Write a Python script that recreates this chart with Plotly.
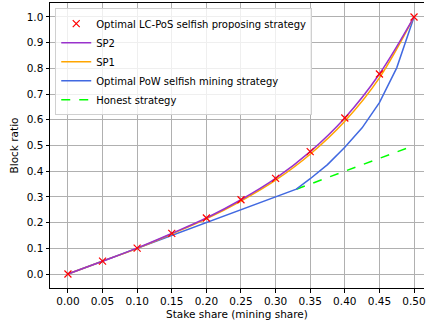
import plotly.graph_objects as go

stake = [0.0, 0.05, 0.10, 0.15, 0.20, 0.25, 0.30, 0.35, 0.40, 0.45, 0.50]
sp_markers = [0.0, 0.05, 0.101, 0.158, 0.218, 0.289, 0.372, 0.476, 0.607, 0.778, 1.0]
sp2 = [0.0, 0.05, 0.101, 0.158, 0.218, 0.289, 0.372, 0.476, 0.607, 0.778, 1.0]
sp1 = [0.0, 0.05, 0.100, 0.156, 0.215, 0.284, 0.365, 0.466, 0.594, 0.763, 1.0]
pow_x = [0.0, 0.05, 0.10, 0.15, 0.20, 0.25, 0.30, 0.33, 0.35, 0.375, 0.40, 0.425, 0.45, 0.475, 0.50]
pow_y = [0.0, 0.05, 0.10, 0.15, 0.20, 0.25, 0.30, 0.33, 0.3708, 0.4255, 0.4933, 0.5686, 0.6666, 0.8020, 1.0]
honest_x = [0.33, 0.50]
honest_y = [0.33, 0.50]

xticks = [0.0, 0.05, 0.10, 0.15, 0.20, 0.25, 0.30, 0.35, 0.40, 0.45, 0.50]
yticks = [0.0, 0.1, 0.2, 0.3, 0.4, 0.5, 0.6, 0.7, 0.8, 0.9, 1.0]

fig = go.Figure()
fig.add_trace(go.Scatter(x=honest_x, y=honest_y, mode="lines", name="Honest strategy",
                         line=dict(color="#00ff00", width=1.5, dash="dash"), legendrank=5))
fig.add_trace(go.Scatter(x=pow_x, y=pow_y, mode="lines", name="Optimal PoW selfish mining strategy",
                         line=dict(color="#4169e1", width=1.5), legendrank=4))
fig.add_trace(go.Scatter(x=stake, y=sp1, mode="lines", name="SP1",
                         line=dict(color="#ffa500", width=1.5, shape="spline"), legendrank=3))
fig.add_trace(go.Scatter(x=stake, y=sp2, mode="lines", name="SP2",
                         line=dict(color="#9932cc", width=1.5, shape="spline"), legendrank=2))
fig.add_trace(go.Scatter(x=stake, y=sp_markers, mode="markers", name="Optimal LC-PoS selfish proposing strategy",
                         marker=dict(symbol="x-thin", size=7, color="red", line=dict(color="red", width=1.2)),
                         legendrank=1))

font = "DejaVu Sans, sans-serif"
fig.update_layout(
    width=426, height=322,
    margin=dict(l=50, r=0, t=3, b=34),
    plot_bgcolor="white", paper_bgcolor="white",
    font=dict(family=font, size=10.5, color="black"),
    showlegend=True,
    legend=dict(x=0.014, y=0.982, xanchor="left", yanchor="top",
                bgcolor="rgba(255,255,255,0.8)", bordercolor="#d0d0d0", borderwidth=1,
                font=dict(size=10), tracegroupgap=0, itemwidth=30),
)
fig.update_xaxes(range=[-0.0259, 0.5144], tickvals=xticks, ticktext=[f"{v:.2f}" for v in xticks],
                 showgrid=True, gridcolor="#b0b0b0", gridwidth=0.8, zeroline=False,
                 showline=True, linecolor="black", linewidth=1, mirror=True,
                 ticks="outside", ticklen=3.5, tickcolor="black", ticklabeloverflow="allow",
                 title=dict(text="Stake share (mining share)", font=dict(size=10.5), standoff=4))
fig.update_yaxes(range=[-0.0543, 1.0543], tickvals=yticks, ticktext=[f"{v:.1f}" for v in yticks],
                 showgrid=True, gridcolor="#b0b0b0", gridwidth=0.8, zeroline=False,
                 showline=True, linecolor="black", linewidth=1, mirror=False,
                 ticks="outside", ticklen=3.5, tickcolor="black",
                 title=dict(text="Block ratio", font=dict(size=10.5), standoff=6))

fig.write_html("out.html")
